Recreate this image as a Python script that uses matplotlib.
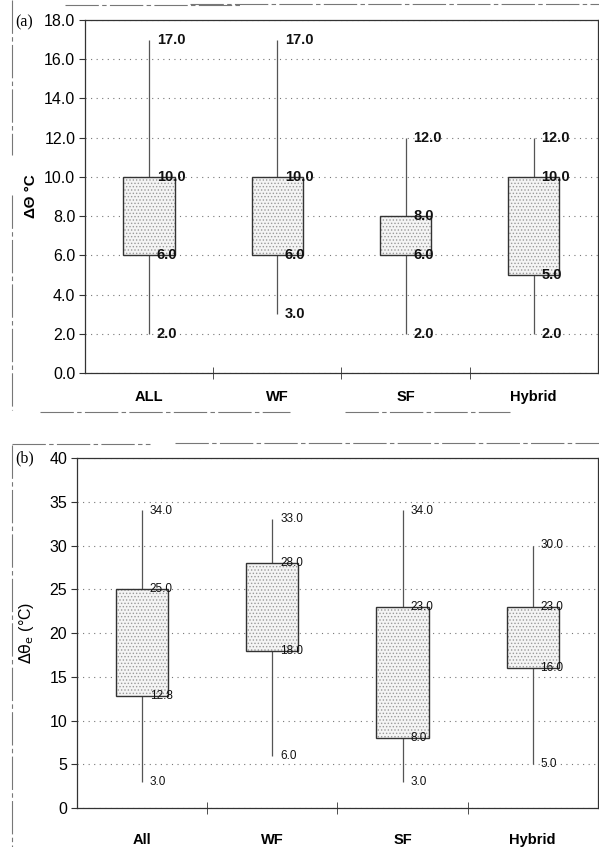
import numpy as np
import matplotlib
matplotlib.use('Agg')
import matplotlib.pyplot as plt
from matplotlib.lines import Line2D

plt.rcParams['font.family'] = ['Liberation Sans', 'DejaVu Sans']
plt.rcParams['hatch.linewidth'] = 0.6

# (a) temperature range per heating type
cats_a = ['ALL', 'WF', 'SF', 'Hybrid']
min_a = [2.0, 3.0, 2.0, 2.0]
q1_a = [6.0, 6.0, 6.0, 5.0]
q3_a = [10.0, 10.0, 8.0, 10.0]
max_a = [17.0, 17.0, 12.0, 12.0]

# (b)
cats_b = ['All', 'WF', 'SF', 'Hybrid']
min_b = [3.0, 6.0, 3.0, 5.0]
q1_b = [12.8, 18.0, 8.0, 16.0]
q3_b = [25.0, 28.0, 23.0, 23.0]
max_b = [34.0, 33.0, 34.0, 30.0]

W, H = 599, 847
fig = plt.figure(figsize=(W / 100, H / 100), dpi=100)

ax_a = fig.add_axes([85 / W, 1 - 373 / H, 1 - 85 / W - 0.002, (373 - 20) / H])
ax_b = fig.add_axes([77 / W, 1 - 808 / H, 1 - 77 / W - 0.002, (808 - 458) / H])


def draw_panel(ax, cats, lo, q1, q3, hi, bold, fsize, pad):
    x = np.arange(len(cats))
    q1 = np.array(q1)
    q3 = np.array(q3)
    # whiskers
    ax.vlines(x, q3, hi, color='#555555', lw=0.9, zorder=2)
    ax.vlines(x, lo, q1, color='#555555', lw=0.9, zorder=2)
    # stippled boxes
    ax.bar(x, q3 - q1, bottom=q1, width=0.4, color='#f4f4f4',
           edgecolor='#9a9a9a', hatch='.....', linewidth=0, zorder=3)
    ax.bar(x, q3 - q1, bottom=q1, width=0.4, fill=False,
           edgecolor='#333333', linewidth=1.0, zorder=4)
    wt = 'bold' if bold else 'normal'
    for xi, vals in zip(x, zip(lo, q1, q3, hi)):
        for v in vals:
            ax.text(xi + 0.06, v, f'{v:.1f}', ha='left', va='center',
                    fontsize=fsize, fontweight=wt, color='#111111', zorder=5)
    ax.set_xlim(-0.5, 3.5)
    ax.set_xticks(x)
    ax.set_xticklabels(cats, fontweight='bold', fontsize=10.5)
    ax.set_xticks(x[:-1] + 0.5, minor=True)
    ax.tick_params(axis='x', which='major', length=0, pad=pad)
    ax.tick_params(axis='x', which='minor', length=8, direction='inout',
                   color='#333333')
    ax.tick_params(axis='y', length=4, direction='out', labelsize=11.5,
                   color='#333333', pad=3)
    ax.yaxis.grid(True, linestyle=(0, (1, 4)), color='#777777', lw=0.8)
    ax.set_axisbelow(True)
    for s in ax.spines.values():
        s.set_color('#333333')
        s.set_linewidth(0.9)


draw_panel(ax_a, cats_a, min_a, q1_a, q3_a, max_a, True, 10.5, 12)
ax_a.set_ylim(0, 18)
ax_a.set_yticks(np.arange(0, 19, 2))
ax_a.set_yticklabels([f'{v:.1f}' for v in np.arange(0, 19, 2)])
ax_a.set_ylabel('ΔΘ °C', fontsize=11, fontweight='bold', labelpad=4)

draw_panel(ax_b, cats_b, min_b, q1_b, q3_b, max_b, False, 8.5, 18)
ax_b.set_ylim(0, 40)
ax_b.set_yticks(np.arange(0, 41, 5))
ax_b.set_ylabel(r'$\Delta\mathrm{\theta_e}$ (°C)', fontsize=11.5, labelpad=10)

# panel letters
fig.text(15 / W, 1 - 22 / H, '(a)', family='Liberation Serif', fontsize=11.5,
         va='center', ha='left')
fig.text(15 / W, 1 - 458 / H, '(b)', family='Liberation Serif', fontsize=11.5,
         va='center', ha='left')

# scan frame remnants
frame = [((12, 12), (0, 155)), ((12, 12), (195, 410)),
         ((65, 240), (5, 5)), ((190, 600), (4, 4)),
         ((40, 290), (412, 412)), ((345, 510), (412, 412)),
         ((12, 12), (445, 847)), ((12, 150), (444, 444)),
         ((175, 600), (443, 443))]
for xs, ys in frame:
    fig.add_artist(Line2D([xs[0] / W, xs[1] / W], [1 - ys[0] / H, 1 - ys[1] / H],
                          transform=fig.transFigure, color='#777777',
                          lw=0.8, linestyle=(0, (30, 3, 4, 3))))

fig.savefig('out.png', dpi=100)
